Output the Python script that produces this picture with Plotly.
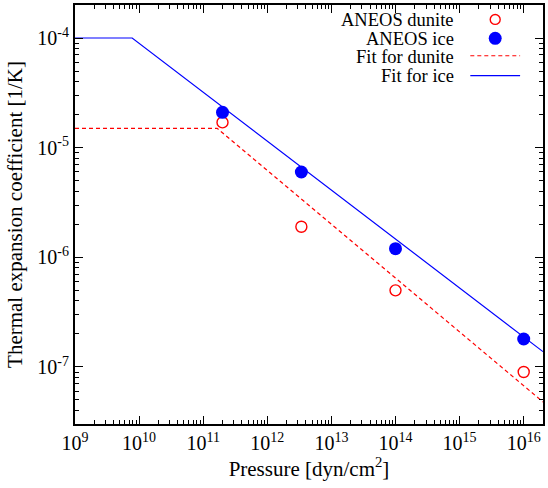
import plotly.graph_objects as go

# Data
pressure_points = [2e11, 3.4e12, 1e14, 1e16]
alpha_dunite = [1.7e-5, 1.9e-6, 5.0e-7, 9.0e-8]
alpha_ice = [2.1e-5, 6.0e-6, 1.2e-6, 1.8e-7]

fit_dunite_P = [1e9, 1.65e11, 2e16]
fit_dunite_alpha = [1.5e-5, 1.5e-5, 4.8e-8]
fit_ice_P = [1e9, 7.8e9, 2e16]
fit_ice_alpha = [1e-4, 1e-4, 1.38e-7]

x_tickvals = [1e9, 1e10, 1e11, 1e12, 1e13, 1e14, 1e15, 1e16]
x_ticktext = ["10<sup>9</sup>", "10<sup>10</sup>", "10<sup>11</sup>", "10<sup>12</sup>",
              "10<sup>13</sup>", "10<sup>14</sup>", "10<sup>15</sup>", "10<sup>16</sup>"]
y_tickvals = [1e-7, 1e-6, 1e-5, 1e-4]
y_ticktext = ["10<sup>-7</sup>", "10<sup>-6</sup>", "10<sup>-5</sup>", "10<sup>-4</sup>"]

legend_labels = ["ANEOS dunite", "ANEOS ice", "Fit for dunite", "Fit for ice"]

FONT = "Liberation Serif"
RED = "#ff0000"
BLUE = "#0000ff"

fig = go.Figure()
fig.add_trace(go.Scatter(x=fit_dunite_P, y=fit_dunite_alpha, mode="lines",
                         line=dict(color=RED, width=1.2, dash="4px,3px"),
                         name=legend_labels[2], showlegend=False))
fig.add_trace(go.Scatter(x=fit_ice_P, y=fit_ice_alpha, mode="lines",
                         line=dict(color=BLUE, width=1.2),
                         name=legend_labels[3], showlegend=False))
fig.add_trace(go.Scatter(x=pressure_points, y=alpha_dunite, mode="markers",
                         marker=dict(symbol="circle-open", size=11, color=RED, line=dict(width=1.4)),
                         name=legend_labels[0], showlegend=False))
fig.add_trace(go.Scatter(x=pressure_points, y=alpha_ice, mode="markers",
                         marker=dict(symbol="circle", size=13, color=BLUE),
                         name=legend_labels[1], showlegend=False))

axis_common = dict(
    type="log", showline=True, linecolor="black", linewidth=2, mirror="allticks",
    ticks="inside", ticklen=8, tickwidth=1.3, tickcolor="black", showgrid=False, zeroline=False,
    tickfont=dict(family=FONT, size=20, color="black"),
    minor=dict(ticks="inside", ticklen=4, tickwidth=1, tickcolor="black", dtick="D1", showgrid=False),
)

fig.update_xaxes(**axis_common, range=[9, 16.301], tickvals=x_tickvals, ticktext=x_ticktext,
                 title=dict(text="Pressure [dyn/cm<sup>2</sup>]", font=dict(family=FONT, size=21, color="black"),
                            standoff=5))
fig.update_yaxes(**axis_common, range=[-7.52, -3.699], tickvals=y_tickvals, ticktext=y_ticktext,
                 title=dict(text="Thermal expansion coefficient [1/K]", font=dict(family=FONT, size=21, color="black"),
                            standoff=9))

# Custom legend (text right-aligned, samples on the right, as in the original)
W, H = 548, 488
ml, mr, mt, mb = 75, 3, 3, 64
pw, ph = W - ml - mr, H - mt - mb
def px(x):
    return (x - ml) / pw
def py(y):
    return 1 - (y - mt) / ph

rows_y = [18, 37, 55, 74]
for lab, yy in zip(legend_labels, rows_y):
    fig.add_annotation(xref="paper", yref="paper", x=px(458), y=py(yy), text=lab, showarrow=False,
                       xanchor="right", yanchor="middle", font=dict(family=FONT, size=18.5, color="black"))
# sample marks
r1 = 5
fig.add_shape(type="circle", xref="paper", yref="paper",
              x0=px(497 - r1), x1=px(497 + r1), y0=py(17.5 + r1), y1=py(17.5 - r1),
              line=dict(color=RED, width=1.4))
r2 = 6.5
fig.add_shape(type="circle", xref="paper", yref="paper",
              x0=px(497 - r2), x1=px(497 + r2), y0=py(36.5 + r2), y1=py(36.5 - r2),
              line=dict(color=BLUE, width=0), fillcolor=BLUE)
fig.add_shape(type="line", xref="paper", yref="paper", x0=px(472), x1=px(522), y0=py(54), y1=py(54),
              line=dict(color=RED, width=1.2, dash="4px,3px"))
fig.add_shape(type="line", xref="paper", yref="paper", x0=px(472), x1=px(522), y0=py(74), y1=py(74),
              line=dict(color=BLUE, width=1.2))

fig.update_layout(width=W, height=H, margin=dict(l=ml, r=mr, t=mt, b=mb),
                  plot_bgcolor="white", paper_bgcolor="white", showlegend=False,
                  font=dict(family=FONT, size=20, color="black"))

fig.write_html("out.html")
